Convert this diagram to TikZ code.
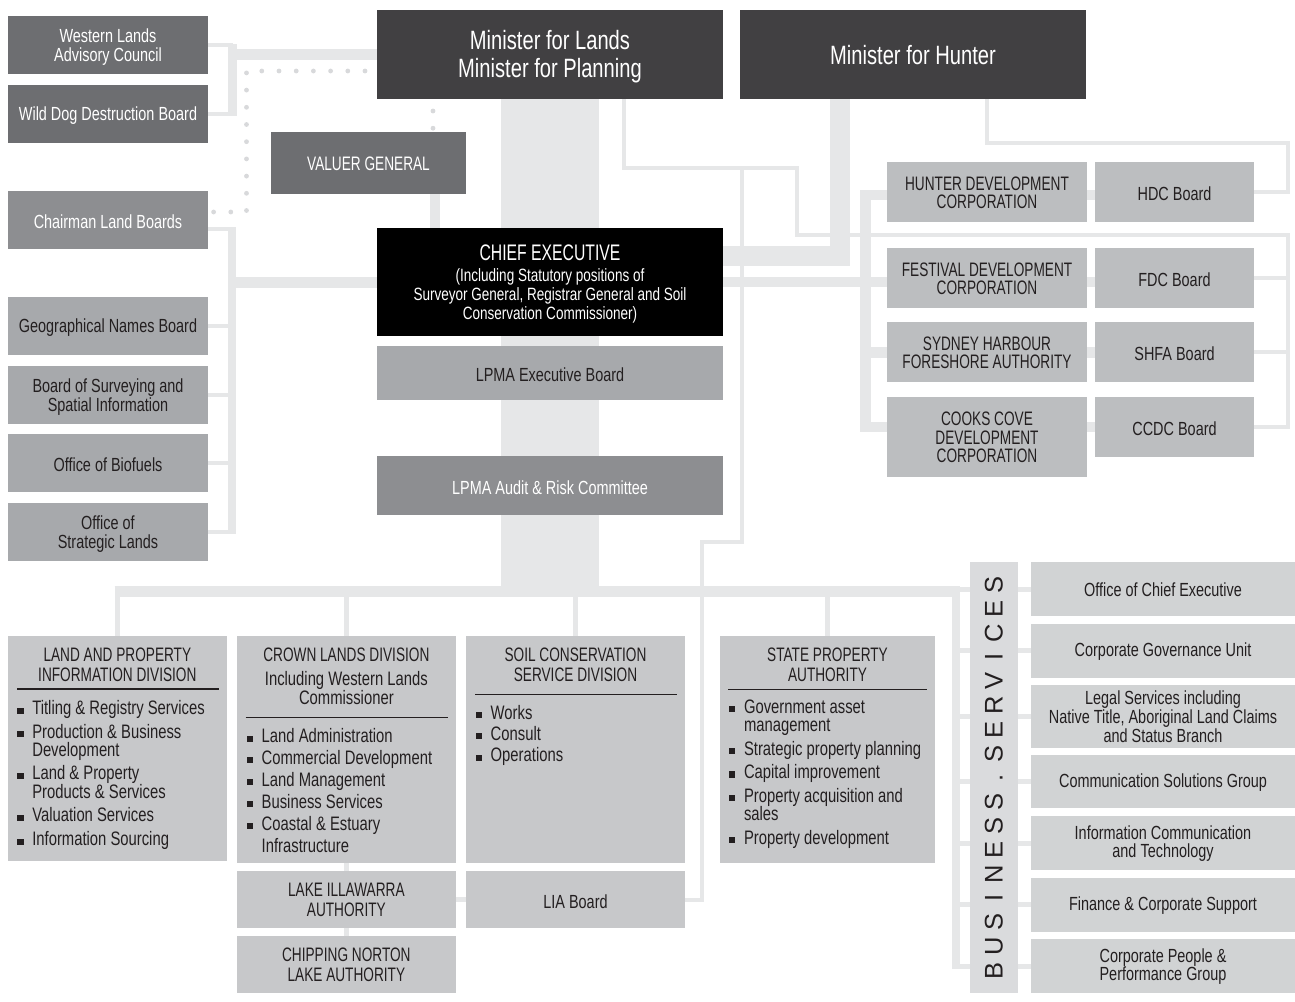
\documentclass[tikz,border=0pt]{standalone}
\usepackage{fontspec}
\setmainfont{Liberation Sans}[FakeStretch=0.76]
\newfontfamily\capf{Liberation Sans}[FakeStretch=0.70]
\newfontfamily\bsfont{Liberation Sans}
\usetikzlibrary{backgrounds,calc}
\definecolor{conn}{HTML}{E6E7E8}
\definecolor{dotc}{HTML}{D8D9DB}
\definecolor{ink}{HTML}{231F20}
\definecolor{minc}{HTML}{414042}
\definecolor{dkg}{HTML}{6D6E71}
\definecolor{mdg}{HTML}{8D8E91}
\definecolor{ltg}{HTML}{A7A9AC}
\definecolor{rgc}{HTML}{BCBEC0}
\definecolor{divc}{HTML}{C7C8CA}
\definecolor{bsc}{HTML}{DADBDD}
\definecolor{bsb}{HTML}{D1D3D4}
\tikzset{
 box/.style={rectangle, inner sep=0pt, outer sep=0pt, align=center, text=ink},
 mixf/.style={font=\fontsize{19}{19.5}\selectfont, yshift=-2pt},
 mixs/.style={font=\fontsize{19}{17.6}\selectfont, yshift=-0.5pt},
 capsf/.style={font=\capf\fontsize{19.5}{18.5}\selectfont, yshift=-0.8pt},
 capsb/.style={font=\capf\fontsize{19.5}{20}\selectfont},
 minf/.style={font=\fontsize{26.5}{28}\selectfont, yshift=-2.2pt},
 wire/.style={draw=conn, line width=#1},
 dotline/.style={draw=dotc, line width=4.8pt, line cap=round, dash pattern=on 0pt off 17.2pt, dash phase=5.2pt},
 lbl/.style={inner sep=0pt, outer sep=0pt, text=ink, anchor=base},
 itmf/.style={inner sep=0pt, outer sep=0pt, text=ink, anchor=base west, font=\fontsize{19.5}{20}\selectfont},
}
% box: name, cx, cy, w, h, fill, label style, label
\newcommand\bx[8]{\node[rectangle,inner sep=0pt,outer sep=0pt,fill=#6,minimum width=#4,minimum height=#5] (#1) at (#2,#3) {};
 \node[box,#7] (#1t) at (#1) {#8};}
\newcommand\itm[4]{\node[itmf] (#1) at (#2,#3) {#4};\fill[ink] (#2-15,#3-7) rectangle (#2-8.7,#3-0.8);}
% wrapped item: name, x, baseline, line1, line2, line skip
\newcommand\itmw[6]{\node[itmf] (#1) at (#2,#3) {\vtop{\baselineskip=#6pt\lineskiplimit=-100pt\hbox{#4}\hbox{#5}}};\fill[ink] (#2-15,#3-7) rectangle (#2-8.7,#3-0.8);}
\newcommand\ls[1]{\makebox[24.1pt]{#1}}
\begin{document}
\begin{tikzpicture}[x=1pt,y=-1pt]
\useasboundingbox (0,0) rectangle (1295,1001);
% ---------- left column
\bx{wlac}{108}{45}{200}{58}{dkg}{text=white,mixf}{Western Lands\\Advisory Council}
\bx{wddb}{108}{114}{200}{58}{dkg}{text=white,mixf}{Wild Dog Destruction Board}
\bx{clb}{108}{220}{200}{58}{mdg}{text=white,mixf}{Chairman Land Boards}
\bx{gnb}{108}{326}{200}{58}{ltg}{mixf}{Geographical Names Board}
\bx{bssi}{108}{395}{200}{58}{ltg}{mixf}{Board of Surveying and\\Spatial Information}
\bx{oob}{108}{463}{200}{58}{ltg}{mixf}{Office of Biofuels}
\bx{osl}{108}{532}{200}{58}{ltg}{mixf}{Office of\\Strategic Lands}
% ---------- ministers and centre
\bx{minL}{550}{54.5}{346}{89}{minc}{text=white,minf}{Minister for Lands\\Minister for Planning}
\bx{minH}{913}{54.5}{346}{89}{minc}{text=white,minf,yshift=1.2pt}{Minister for Hunter}
\bx{vg}{368.5}{163}{195}{62}{dkg}{text=white,capsf}{VALUER GENERAL}
\bx{ce}{550}{282}{346}{108}{black}{}{}
\node[lbl,text=white,font=\capf\fontsize{22.5}{24}\selectfont] (cet1) at (550,260) {CHIEF EXECUTIVE};
\node[lbl,text=white,font=\fontsize{17.8}{19}\selectfont] (cet2) at (550,281) {(Including Statutory positions of};
\node[lbl,text=white,font=\fontsize{17.8}{19}\selectfont] (cet3) at (550,300) {Surveyor General, Registrar General and Soil};
\node[lbl,text=white,font=\fontsize{17.8}{19}\selectfont] (cet4) at (550,319) {Conservation Commissioner)};
\bx{exb}{550}{373}{346}{54}{ltg}{mixf}{LPMA Executive Board}
\bx{arc}{550}{485.25}{346}{58.5}{mdg}{text=white,mixf}{LPMA Audit \& Risk Committee}
% ---------- right group
\bx{hdc}{987}{192}{200}{60}{rgc}{capsf}{HUNTER DEVELOPMENT\\CORPORATION}
\bx{hdcb}{1174.5}{192}{159}{60}{rgc}{mixf}{HDC Board}
\bx{fdc}{987}{278}{200}{60}{rgc}{capsf}{FESTIVAL DEVELOPMENT\\CORPORATION}
\bx{fdcb}{1174.5}{278}{159}{60}{rgc}{mixf}{FDC Board}
\bx{shfa}{987}{352}{200}{60}{rgc}{capsf}{SYDNEY HARBOUR\\FORESHORE AUTHORITY}
\bx{shfab}{1174.5}{352}{159}{60}{rgc}{mixf}{SHFA Board}
\bx{ccdc}{987}{436.75}{200}{79.5}{rgc}{capsf}{COOKS COVE\\DEVELOPMENT\\CORPORATION}
\bx{ccdcb}{1174.5}{427}{159}{60}{rgc}{mixf}{CCDC Board}
% ---------- divisions
\bx{lapd}{117.35}{748.35}{218.7}{224.7}{divc}{}{}
\bx{cld}{346.35}{749.65}{218.7}{227.3}{divc}{}{}
\bx{lia}{346.35}{899.5}{218.7}{57}{divc}{capsb}{LAKE ILLAWARRA\\AUTHORITY}
\bx{cnla}{346.35}{964.35}{218.7}{56.7}{divc}{capsb}{CHIPPING NORTON\\LAKE AUTHORITY}
\bx{scs}{575.5}{749.5}{219}{227}{divc}{}{}
\bx{liab}{575.5}{899.5}{219}{57}{divc}{mixf}{LIA Board}
\bx{spa}{827.5}{749.5}{215}{227}{divc}{}{}
% LAPD text
\node[lbl,capsb] (lapdt1) at (117.35,661.7) {LAND AND PROPERTY};
\node[lbl,capsb] (lapdt2) at (117.35,681.7) {INFORMATION DIVISION};
\draw[ink, line width=1.2] (17,689) -- (219,689);
\itm{lp1}{32.3}{714.5}{Titling \& Registry Services}
\itmw{lp2}{32.3}{738}{Production \& Business}{Development}{18.5}
\itmw{lp3}{32.3}{779.5}{Land \& Property}{Products \& Services}{18.5}
\itm{lp4}{32.3}{821.5}{Valuation Services}
\itm{lp5}{32.3}{845.5}{Information Sourcing}
% CROWN text
\node[lbl,capsb] (cldt1) at (346.35,661.7) {CROWN LANDS DIVISION};
\node[lbl,font=\fontsize{19.5}{20}\selectfont] (cldt2) at (346.35,685) {Including Western Lands};
\node[lbl,font=\fontsize{19.5}{20}\selectfont] (cldt3) at (346.35,704) {Commissioner};
\draw[ink, line width=1.2] (245.7,717.7) -- (447.7,717.7);
\itm{cl1}{261.7}{742.7}{Land Administration}
\itm{cl2}{261.7}{764}{Commercial Development}
\itm{cl3}{261.7}{786}{Land Management}
\itm{cl4}{261.7}{808}{Business Services}
\itmw{cl5}{261.7}{830}{Coastal \& Estuary}{Infrastructure}{22}
% SOIL text
\node[lbl,capsb] (scst1) at (575.5,661.7) {SOIL CONSERVATION};
\node[lbl,capsb] (scst2) at (575.5,681.7) {SERVICE DIVISION};
\draw[ink, line width=1.2] (475,694.3) -- (676.7,694.3);
\itm{sc1}{490.7}{719}{Works}
\itm{sc2}{490.7}{740}{Consult}
\itm{sc3}{490.7}{761.7}{Operations}
% STATE text
\node[lbl,capsb] (spat1) at (827.5,661.7) {STATE PROPERTY};
\node[lbl,capsb] (spat2) at (827.5,681.7) {AUTHORITY};
\draw[ink, line width=1.2] (728.3,689.3) -- (926.7,689.3);
\itmw{sp1}{744}{713}{Government asset}{management}{18.5}
\itm{sp2}{744}{755}{Strategic property planning}
\itm{sp3}{744}{778.3}{Capital improvement}
\itmw{sp4}{744}{802}{Property acquisition and}{sales}{18.5}
\itm{sp5}{744}{844}{Property development}
% ---------- business services
\node[box,fill=bsc,rotate=90,minimum width=431,minimum height=47.7,font=\bsfont\fontsize{25.5}{25}\selectfont] (bsbar) at (993.85,777.8)
 {\ls B\ls U\ls S\ls I\ls N\ls E\ls S\ls S\ls .\ls S\ls E\ls R\ls V\ls I\ls C\ls E\ls S};
\bx{oce}{1163}{589}{264}{53.4}{bsb}{mixs}{Office of Chief Executive}
\bx{cgu}{1163}{650.85}{264}{53.7}{bsb}{mixs}{Corporate Governance Unit}
\bx{lsb}{1163}{716.35}{264}{62.7}{bsb}{mixs}{Legal Services including\\Native Title, Aboriginal Land Claims\\and Status Branch}
\bx{csg}{1163}{781.65}{264}{53.3}{bsb}{mixs}{Communication Solutions Group}
\bx{ict}{1163}{843}{264}{54}{bsb}{mixs}{Information Communication\\and Technology}
\bx{fcs}{1163}{904.7}{264}{54}{bsb}{mixs}{Finance \& Corporate Support}
\bx{cpp}{1163}{966.15}{264}{54.3}{bsb}{mixs}{Corporate People \&\\Performance Group}
% ---------- connectors
\begin{pgfonlayer}{background}
\fill[white] (0,0) rectangle (1295,1001);
\coordinate (busL) at (114.5,591.5);
\coordinate (busR) at (960,591.5);
\coordinate (bsv) at (956,586);
\draw[wire=98] (minL.south) -- (minL.south |- busL);
\draw[wire=11] (busL) -- (busR);
\foreach \n in {lapd,cld,scs,spa} \draw[wire=5] (\n.north |- busL) -- (\n.north);
\draw[wire=8] (bsv) -- ($(bsv |- cpp.west)+(0,2.5)$);
\foreach \n in {oce,cgu,lsb,csg,ict,fcs,cpp} \draw[wire=5] (bsv |- \n.west) -- (\n.west);
\draw[wire=5] (cld.south) -- (lia.north);
\draw[wire=5] (lia.south) -- (cnla.north);
\draw[wire=5] (lia.east) -- (liab.west);
\coordinate (mj) at (624,168);
\coordinate (lk2) at (742,542);
\coordinate (lk1) at (702,542);
\coordinate (rj) at (797,235);
\coordinate (rr) at (1288,235);
\draw[wire=4] (minL.south -| mj) -- (mj) -- (mj -| lk2) -- (lk2) -- (lk1) -- (lk1 |- liab.east) -- (liab.east);
\draw[wire=4] (mj) -| (rj) -- (rr) -- (rr |- ccdcb.east) -- (ccdcb.east);
\draw[wire=4] (rr |- fdcb.east) -- (fdcb.east);
\draw[wire=4] (rr |- shfab.east) -- (shfab.east);
\coordinate (hr) at (1288,143);
\draw[wire=4] (hdc.north |- minH.south) -- (hdc.north |- hr) -- (hr) -- (hr |- hdcb.east) -- (hdcb.east);
\coordinate (hcx) at (839.5,256);
\draw[wire=20] (minH.south -| hcx) -- (hcx) -- (hcx -| ce.east);
\draw[wire=10] (ce.east) -- (ce.east -| fdcb.west);
\coordinate (bk) at (865.5,195);
\draw[wire=10.5] (hdcb.west |- bk) -- (bk) -- (bk |- ccdcb.west) -- (ccdcb.west);
\draw[wire=11] (bk |- shfab.west) -- (shfab.west);
\coordinate (lv) at (232.5,54.5);
\draw[wire=11] (minL.west) -- (lv);
\draw[wire=9] ($(lv |- wlac.east)+(0,-1)$) -- ($(lv |- wddb.east)+(0,2)$);
\draw[wire=4] (wlac.east) -- (wlac.east -| lv);
\draw[wire=4] (wddb.east) -- (wddb.east -| lv);
\coordinate (cv) at (232,229);
\draw[wire=4] (clb.east |- cv) -- (cv);
\draw[wire=8] ($(cv)+(0,-2)$) -- ($(cv |- osl.east)+(0,2)$);
\draw[wire=11] (ce.west) -- (ce.west -| cv);
\foreach \n in {gnb,bssi,oob,osl} \draw[wire=4] (\n.east) -- (\n.east -| cv);
\coordinate (vx) at (435,0);
\draw[wire=10] (vg.south -| vx) -- (ce.north -| vx);
\coordinate (d1) at (246.5,71);
\coordinate (d2) at (246.5,212);
\coordinate (dx) at (433,0);
\draw[dotline] (minL.west |- d1) -- (d1) -- (d2) -- (clb.east |- d2);
\draw[dotline] (minL.south -| dx) -- (vg.north -| dx);
\end{pgfonlayer}
\end{tikzpicture}
\end{document}
